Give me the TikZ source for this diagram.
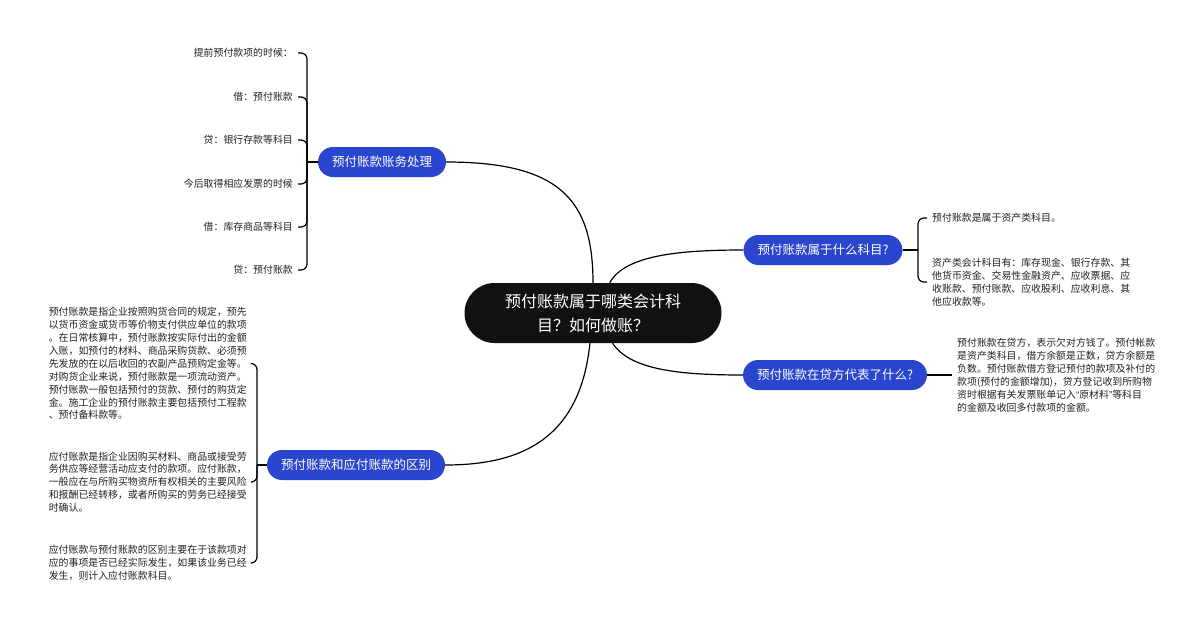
\documentclass[tikz,border=0pt]{standalone}
\usepackage{fontspec}
\setmainfont{Noto Sans CJK SC}
\newfontfamily\quotefont{Liberation Sans}
\usepackage{tikz}
\definecolor{branchblue}{HTML}{2B46CE}
\definecolor{rootblack}{HTML}{111111}
\definecolor{leafgray}{HTML}{222222}
\tikzset{
    root/.style={fill=rootblack, text=white, rounded corners=30pt, minimum width=257pt,
        minimum height=60pt, align=center, font=\fontsize{16}{24}\selectfont},
    branch/.style={fill=branchblue, text=white, rounded corners=15pt, minimum height=30pt,
        inner xsep=14pt, font=\fontsize{12.5}{15}\selectfont},
    leaf/.style={text=leafgray, inner xsep=5pt, inner ysep=0pt, align=left,
        font=\fontsize{9.9}{12.9}\selectfont},
    link/.style={line width=1.2pt, black},
    hook/.style={line width=1.2pt, black, rounded corners=6pt}
}

\begin{document}
\begin{tikzpicture}[x=1pt, y=-1pt]
    \useasboundingbox[fill=white] (0, 0) rectangle (1200, 630);

    % root and branches
    \node[root] (root) at (593, 313) {预付账款属于哪类会计科\\目？如何做账？};
    \node[branch] (acct) at (382, 162) {预付账款账务处理};
    \node[branch] (diff) at (356, 465) {预付账款和应付账款的区别};
    \node[branch] (kind) at (823, 250) {预付账款属于什么科目?};
    \node[branch] (credit) at (835, 375) {预付账款在贷方代表了什么?};

    \draw[link] (root) .. controls (593, 200) and (560, 162) .. (acct.east);
    \draw[link] (root) .. controls (580, 440) and (520, 465) .. (diff.east);
    \draw[link] (root) .. controls (625, 255) and (680, 250) .. (kind.west);
    \draw[link] (root) .. controls (630, 370) and (680, 375) .. (credit.west);

    % entries of acct
    \coordinate (acctj) at (307, 162);
    \node[leaf, anchor=east] (a1) at (298, 53) {提前预付款项的时候：};
    \node[leaf, anchor=east] (a2) at (298, 97) {借：预付账款};
    \node[leaf, anchor=east] (a3) at (298, 140) {贷：银行存款等科目};
    \node[leaf, anchor=east] (a4) at (298, 184) {今后取得相应发票的时候};
    \node[leaf, anchor=east] (a5) at (298, 227) {借：库存商品等科目};
    \node[leaf, anchor=east] (a6) at (298, 270) {贷：预付账款};
    \draw[link] (acct.west) -- (acctj);
    \foreach \n in {a1, a2, a3, a4, a5, a6}
        \draw[hook] (acctj) |- (\n.east);

    % entries of diff
    \coordinate (diffj) at (257, 465);
    \node[leaf, anchor=east] (d1) at (252, 363.5) {预付账款是指企业按照购货合同的规定，预先\\以货币资金或货币等价物支付供应单位的款项\\。在日常核算中，预付账款按实际付出的金额\\入账，如预付的材料、商品采购货款、必须预\\先发放的在以后收回的农副产品预购定金等。\\对购货企业来说，预付账款是一项流动资产。\\预付账款一般包括预付的货款、预付的购货定\\金。施工企业的预付账款主要包括预付工程款\\、预付备料款等。};
    \node[leaf, anchor=east] (d2) at (252, 482) {应付账款是指企业因购买材料、商品或接受劳\\务供应等经营活动应支付的款项。应付账款，\\一般应在与所购买物资所有权相关的主要风险\\和报酬已经转移，或者所购买的劳务已经接受\\时确认。};
    \node[leaf, anchor=east] (d3) at (252, 563) {应付账款与预付账款的区别主要在于该款项对\\应的事项是否已经实际发生，如果该业务已经\\发生，则计入应付账款科目。};
    \draw[link] (diff.west) -- (diffj);
    \foreach \n in {d1, d2, d3}
        \draw[hook] (diffj) |- (\n.east);

    % entries of kind
    \coordinate (kindj) at (918, 250);
    \node[leaf, anchor=west] (k1) at (927, 218) {预付账款是属于资产类科目。};
    \node[leaf, anchor=west] (k2) at (927, 282) {资产类会计科目有：库存现金、银行存款、其\\他货币资金、交易性金融资产、应收票据、应\\收账款、预付账款、应收股利、应收利息、其\\他应收款等。};
    \draw[link] (kind.east) -- (kindj);
    \foreach \n in {k1, k2}
        \draw[hook] (kindj) |- (\n.west);

    % entry of credit
    \node[leaf, anchor=west] (c1) at (952, 375) {预付账款在贷方，表示欠对方钱了。预付帐款\\是资产类科目，借方余额是正数，贷方余额是\\负数。预付账款借方登记预付的款项及补付的\\款项(预付的金额增加)，贷方登记收到所购物\\资时根据有关发票账单记入{\quotefont “}原材料{\quotefont ”}等科目\\的金额及收回多付款项的金额。};
    \draw[link] (credit.east) -- (c1.west);
\end{tikzpicture}
\end{document}
